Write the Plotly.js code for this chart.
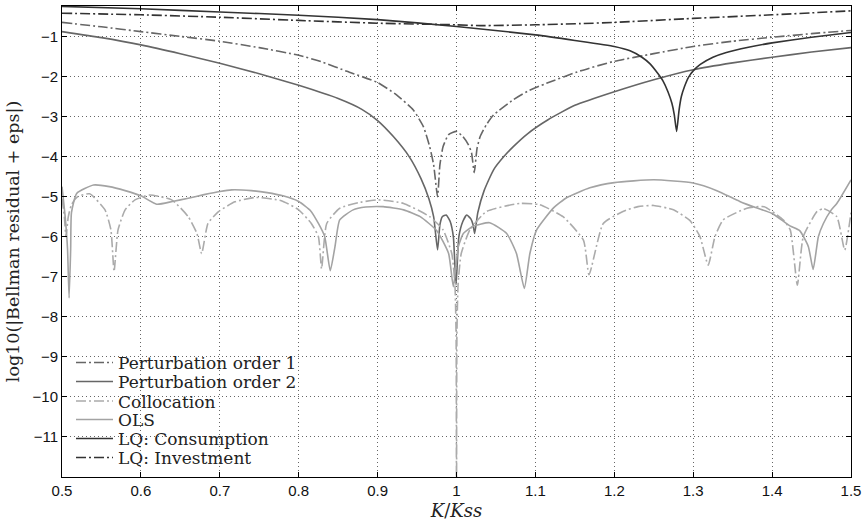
<!DOCTYPE html>
<html>
<head>
<meta charset="utf-8">
<script src="https://cdn.plot.ly/plotly-3.0.1.min.js"></script>
<style>
html,body{margin:0;padding:0;background:#fff;}
#chart{width:865px;height:523px;}
</style>
</head>
<body>
<div id="chart"></div>
<script>
// ---- data ----
const seriesNames = ["Perturbation order 1", "Perturbation order 2", "Collocation", "OLS", "LQ: Consumption", "LQ: Investment"];

const p1X = [0.5,0.55,0.6,0.65,0.7,0.75,0.8,0.83,0.861,0.9,0.924,0.945,0.958,0.966,0.971,0.976,0.979,0.983,0.99,1.0,1.008,1.015,1.019,1.0225,1.026,1.03,1.038,1.047,1.072,1.09,1.114,1.157,1.2,1.25,1.3,1.35,1.4,1.45,1.5];
const p1Y = [-0.65,-0.76,-0.88,-1.0,-1.12,-1.28,-1.47,-1.64,-1.87,-2.15,-2.46,-2.83,-3.25,-3.75,-4.2,-5.0,-4.2,-3.75,-3.45,-3.37,-3.5,-3.7,-3.9,-4.4,-3.8,-3.5,-3.2,-2.96,-2.58,-2.37,-2.17,-1.86,-1.62,-1.43,-1.25,-1.12,-1.02,-0.93,-0.85];

const p2X = [0.5,0.55,0.6,0.65,0.7,0.75,0.8,0.85,0.88,0.9,0.92,0.94,0.955,0.965,0.971,0.976,0.979,0.982,0.987,0.992,0.996,0.9994,1.003,1.008,1.013,1.018,1.021,1.023,1.027,1.035,1.047,1.06,1.072,1.09,1.116,1.15,1.2,1.25,1.3,1.35,1.4,1.45,1.5];
const p2Y = [-0.88,-1.03,-1.21,-1.43,-1.67,-1.93,-2.22,-2.55,-2.82,-3.1,-3.5,-4.0,-4.55,-5.05,-5.5,-6.33,-5.7,-5.5,-5.46,-5.62,-6.0,-7.2,-6.0,-5.62,-5.46,-5.55,-5.7,-5.92,-5.4,-4.85,-4.33,-4.0,-3.75,-3.43,-3.08,-2.72,-2.38,-2.08,-1.83,-1.66,-1.52,-1.39,-1.28];

const colX = [0.5,0.503,0.505,0.508,0.512,0.52,0.535,0.5545,0.562,0.566,0.571,0.58,0.5925,0.611,0.639,0.66,0.671,0.677,0.685,0.698,0.719,0.745,0.778,0.8,0.816,0.825,0.829,0.8355,0.852,0.878,0.901,0.933,0.966,0.983,0.994,0.998,0.9995,1.0,1.0005,1.002,1.006,1.017,1.038,1.08,1.105,1.135,1.161,1.168,1.186,1.211,1.23,1.25,1.275,1.296,1.3086,1.319,1.3276,1.338,1.368,1.39,1.414,1.423,1.432,1.4395,1.457,1.465,1.482,1.492,1.5];
const colY = [-5.05,-5.5,-6.0,-5.5,-5.2,-5.0,-4.93,-5.33,-5.83,-6.87,-5.83,-5.33,-5.08,-4.96,-5.08,-5.5,-5.92,-6.42,-5.67,-5.38,-5.13,-5.02,-5.1,-5.33,-5.67,-6.0,-6.8,-5.67,-5.29,-5.14,-5.08,-5.17,-5.5,-5.83,-6.42,-7.2,-8.5,-14.5,-8.5,-7.2,-6.42,-5.83,-5.37,-5.17,-5.2,-5.5,-6.09,-6.95,-5.67,-5.37,-5.25,-5.22,-5.33,-5.6,-6.0,-6.71,-6.0,-5.58,-5.29,-5.25,-5.58,-5.83,-7.21,-6.0,-5.37,-5.3,-5.5,-6.33,-5.4];

const olsX = [0.5,0.504,0.507,0.509,0.511,0.512,0.5186,0.54,0.56,0.58,0.6,0.62,0.64,0.66,0.68,0.7,0.715,0.74,0.76,0.78,0.8,0.815,0.825,0.833,0.84,0.846,0.852,0.869,0.885,0.907,0.933,0.954,0.975,0.99,0.996,1.0023,1.0087,1.021,1.042,1.0636,1.076,1.086,1.093,1.1016,1.123,1.14,1.169,1.2,1.25,1.3,1.33,1.359,1.38,1.4,1.4227,1.435,1.446,1.452,1.4586,1.465,1.475,1.482,1.5];
const olsY = [-4.75,-5.5,-6.3,-7.53,-6.3,-5.4,-4.92,-4.71,-4.75,-4.85,-4.98,-5.19,-5.12,-5.04,-4.95,-4.87,-4.83,-4.85,-4.9,-4.98,-5.12,-5.35,-5.67,-6.0,-6.85,-6.25,-5.58,-5.33,-5.26,-5.25,-5.33,-5.5,-5.85,-6.42,-7.25,-6.25,-5.92,-5.74,-5.65,-5.92,-6.42,-7.29,-6.42,-5.83,-5.28,-5.02,-4.78,-4.65,-4.58,-4.66,-4.85,-5.12,-5.28,-5.42,-5.73,-5.85,-6.25,-6.82,-6.0,-5.67,-5.33,-5.17,-4.58];

const lqcX = [0.5,0.6,0.7,0.8,0.9,1.0,1.1,1.15,1.2,1.22,1.235,1.245,1.255,1.262,1.268,1.273,1.276,1.279,1.282,1.285,1.289,1.294,1.3,1.309,1.325,1.342,1.37,1.4,1.45,1.5];
const lqcY = [-0.25,-0.31,-0.39,-0.47,-0.58,-0.75,-0.96,-1.1,-1.25,-1.36,-1.52,-1.68,-1.92,-2.12,-2.38,-2.67,-2.95,-3.37,-2.85,-2.5,-2.25,-2.02,-1.86,-1.7,-1.52,-1.4,-1.27,-1.16,-1.02,-0.9];

const lqiX = [0.5,0.6,0.7,0.8,0.9,1.0,1.03,1.1,1.157,1.2,1.3,1.4,1.5];
const lqiY = [-0.42,-0.46,-0.52,-0.6,-0.67,-0.71,-0.73,-0.71,-0.68,-0.65,-0.55,-0.46,-0.36];

const xTickVals = [0.5,0.6,0.7,0.8,0.9,1.0,1.1,1.2,1.3,1.4,1.5];
const xTickText = ["0.5","0.6","0.7","0.8","0.9","1","1.1","1.2","1.3","1.4","1.5"];
const yTickVals = [-11,-10,-9,-8,-7,-6,-5,-4,-3,-2,-1];
const yTickText = ["\u221211","\u221210","\u22129","\u22128","\u22127","\u22126","\u22125","\u22124","\u22123","\u22122","\u22121"];

// ---- styles ----
const dashDot = "10px,3px,2px,3px";
const styles = [
  {color:"#666666", dash:dashDot, width:1.6, legend:"legend"},
  {color:"#666666", dash:"solid", width:1.6, legend:"legend2"},
  {color:"#ababab", dash:dashDot, width:1.6, legend:"legend3"},
  {color:"#a3a3a3", dash:"solid", width:1.6, legend:"legend4"},
  {color:"#333333", dash:"solid", width:1.6, legend:"legend5"},
  {color:"#333333", dash:dashDot, width:1.6, legend:"legend6"}
];
const xs = [p1X,p2X,colX,olsX,lqcX,lqiX];
const ys = [p1Y,p2Y,colY,olsY,lqcY,lqiY];

const traces = seriesNames.map((n,i)=>({
  type:"scatter", mode:"lines", name:n, x:xs[i], y:ys[i],
  legend:styles[i].legend,
  line:{color:styles[i].color, dash:styles[i].dash, width:styles[i].width, shape:"spline", smoothing:0.5},
  hoverinfo:"skip"
}));

const serif = "DejaVu Serif, Liberation Serif, serif";
const sans = "Liberation Sans, Arial, sans-serif";

// legend centres in pixels (converted to paper)
const plotTop = 6, plotBot = 477;
const legendPx = [363, 382, 401.5, 420, 439, 458];
function mkLegend(py){
  return {
    x:(71-62)/789, xanchor:"left", xref:"paper",
    y:(plotBot-py)/(plotBot-plotTop), yanchor:"middle", yref:"paper",
    bgcolor:"rgba(0,0,0,0)", borderwidth:0, itemwidth:37,
    font:{family:serif, size:17, color:"#222"}, tracegroupgap:0
  };
}

const layout = {
  width:865, height:523,
  margin:{l:62, r:14, t:6, b:46, pad:0},
  paper_bgcolor:"#fff", plot_bgcolor:"#fff",
  showlegend:true,
  xaxis:{
    range:[0.5,1.5], tickmode:"array", tickvals:xTickVals, ticktext:xTickText,
    showline:true, linecolor:"#000", linewidth:1, mirror:"ticks",
    ticks:"inside", ticklen:5, tickcolor:"#000", tickwidth:1,
    showgrid:true, gridcolor:"#666", griddash:"1px,3px", gridwidth:1,
    zeroline:false,
    tickfont:{family:sans, size:15, color:"#111"},
    title:{text:"<i>K</i>/<i>Kss</i>", font:{family:serif, size:18, color:"#222"}, standoff:6}
  },
  yaxis:{
    range:[-12,-0.24], tickmode:"array", tickvals:yTickVals, ticktext:yTickText,
    showline:true, linecolor:"#000", linewidth:1, mirror:"ticks",
    ticks:"inside", ticklen:5, tickcolor:"#000", tickwidth:1,
    showgrid:true, gridcolor:"#666", griddash:"1px,3px", gridwidth:1,
    zeroline:false,
    tickfont:{family:sans, size:15, color:"#111"},
    title:{text:"log10(|Bellman residual + eps|)", font:{family:serif, size:17.5, color:"#222"}, standoff:8}
  },
  legend:mkLegend(legendPx[0]),
  legend2:mkLegend(legendPx[1]),
  legend3:mkLegend(legendPx[2]),
  legend4:mkLegend(legendPx[3]),
  legend5:mkLegend(legendPx[4]),
  legend6:mkLegend(legendPx[5])
};

Plotly.newPlot("chart", traces, layout, {displayModeBar:false, staticPlot:true});
</script>
</body>
</html>
